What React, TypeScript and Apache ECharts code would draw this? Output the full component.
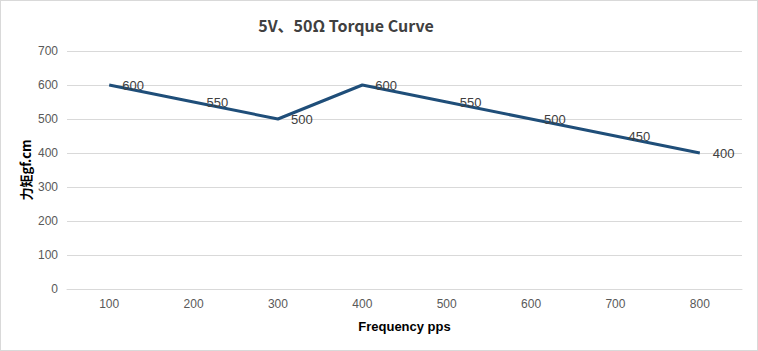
import React, { useEffect, useRef } from "react";
import * as echarts from "echarts";

const categories = ["100", "200", "300", "400", "500", "600", "700", "800"];
const torque = [600, 550, 500, 600, 550, 500, 450, 400];
const yTicks = { min: 0, max: 700, interval: 100 };

export default function App() {
  const ref = useRef<HTMLDivElement>(null);
  useEffect(() => {
    document.body.style.margin = "0";
    const chart = echarts.init(ref.current!, null, { renderer: "svg" });
    chart.setOption({
      animation: false,
      backgroundColor: "#ffffff",
      title: {
        text: "5V、50Ω Torque Curve",
        left: 340,
        textAlign: "center",
        top: 11,
        textStyle: {
          fontFamily: "Noto Sans CJK SC",
          fontSize: 16,
          fontWeight: "bold",
          color: "#404040",
        },
      },
      grid: { left: 66, right: 15, top: 50, bottom: 61 },
      xAxis: {
        type: "category",
        data: categories,
        boundaryGap: true,
        name: "Frequency pps",
        nameLocation: "middle",
        nameGap: 31,
        nameTextStyle: {
          fontFamily: "Liberation Sans",
          fontSize: 13,
          fontWeight: "bold",
          color: "#000000",
        },
        axisLine: { show: true, lineStyle: { color: "#d9d9d9", width: 1 } },
        axisTick: { show: false },
        axisLabel: {
          fontFamily: "Liberation Sans",
          fontSize: 12,
          color: "#595959",
          margin: 9,
        },
      },
      yAxis: {
        type: "value",
        min: yTicks.min,
        max: yTicks.max,
        interval: yTicks.interval,
        name: "力矩gf.cm",
        nameLocation: "middle",
        nameRotate: 90,
        nameGap: 35,
        nameMoveOverlap: false,
        nameTextStyle: {
          fontFamily: "Noto Sans CJK SC",
          fontSize: 13,
          fontWeight: "bold",
          color: "#000000",
        },
        axisLine: { show: false },
        axisTick: { show: false },
        splitLine: { lineStyle: { color: "#d9d9d9", width: 1 } },
        axisLabel: {
          fontFamily: "Liberation Sans",
          fontSize: 12,
          color: "#595959",
          margin: 9,
        },
      },
      series: [
        {
          type: "line",
          data: torque,
          symbol: "circle",
          symbolSize: 0,
          showSymbol: true,
          lineStyle: { color: "#1f4e79", width: 3 },
          itemStyle: { color: "#1f4e79" },
          label: {
            show: true,
            position: "right",
            distance: 13,
            fontFamily: "Liberation Sans",
            fontSize: 13,
            color: "#404040",
          },
        },
      ],
    });
    return () => chart.dispose();
  }, []);
  return (
    <div
      style={{
        position: "absolute",
        left: 0,
        top: 0,
        width: 758,
        height: 351,
        border: "1px solid #d9d9d9",
        boxSizing: "border-box",
      }}
    >
      <div ref={ref} style={{ width: 756, height: 349 }} />
    </div>
  );
}
